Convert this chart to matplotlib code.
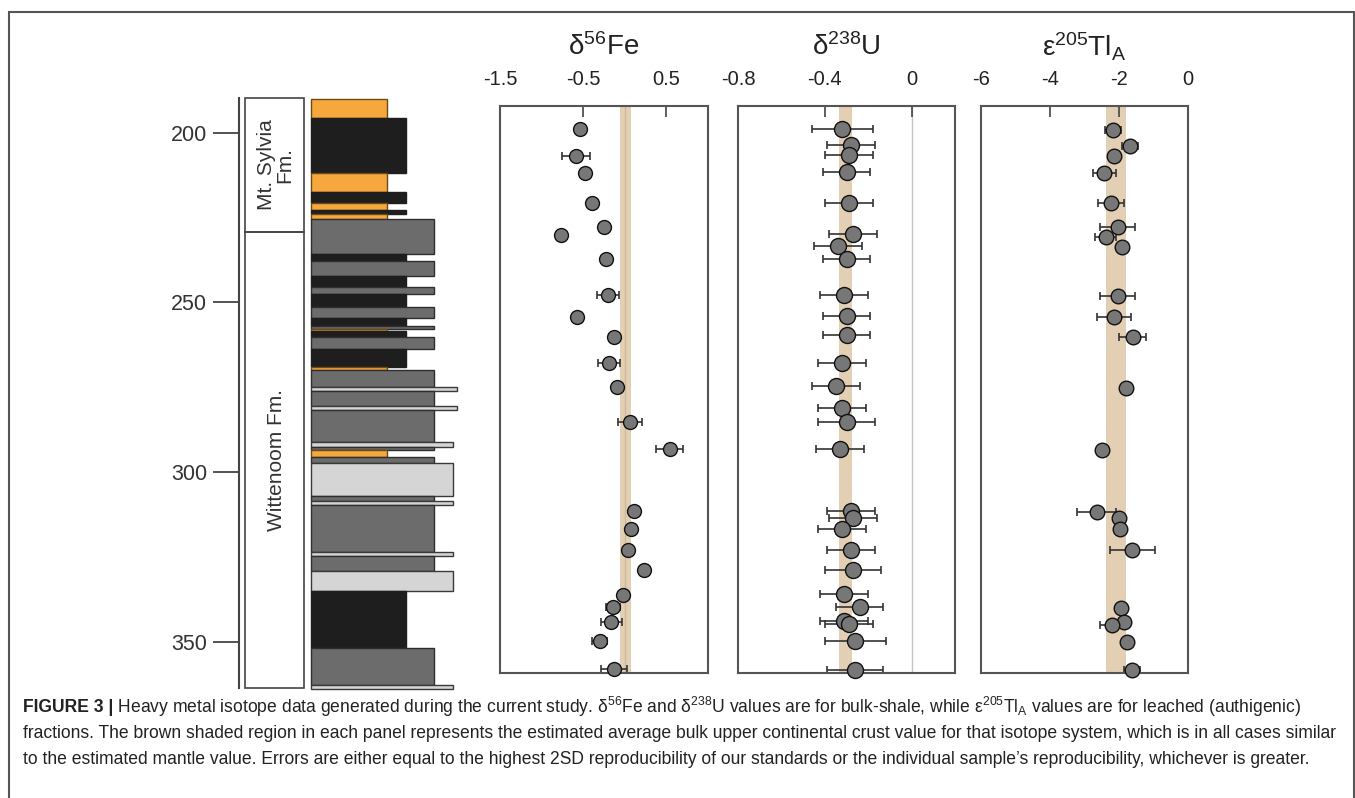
import matplotlib
matplotlib.use('Agg')
import matplotlib.pyplot as plt
from matplotlib import font_manager
from matplotlib.patches import Rectangle

# ---- data (depth in m, isotope values) ----
fe_depth = [198.9, 206.7, 211.7, 220.6, 227.8, 230.1, 237.1, 247.9, 254.2, 260.1, 267.8, 274.8,
            285.2, 293.3, 311.5, 316.8, 323.1, 328.8, 336.3, 339.9, 344.2, 349.9, 358.2]
fe_val = [-0.54, -0.59, -0.48, -0.40, -0.25, -0.77, -0.23, -0.20, -0.58, -0.135, -0.19, -0.09,
          0.06, 0.54, 0.115, 0.08, 0.04, 0.23, -0.02, -0.14, -0.16, -0.30, -0.13]
fe_err = [0.05, 0.17, 0.05, 0.05, 0.05, 0.05, 0.05, 0.13, 0.05, 0.05, 0.135, 0.05,
          0.145, 0.16, 0.05, 0.05, 0.05, 0.05, 0.05, 0.085, 0.13, 0.09, 0.16]

u_depth = [198.9, 203.5, 206.5, 211.4, 220.6, 229.9, 233.3, 237.1, 247.8, 254.0, 259.6, 267.8, 274.6, 281.1,
           285.2, 293.3, 311.4, 313.5, 316.7, 323.0, 328.9, 336.1, 339.9, 343.9, 344.8, 349.8, 358.4]
u_val = [-0.32, -0.28, -0.29, -0.30, -0.29, -0.27, -0.34, -0.30, -0.31, -0.30, -0.30, -0.32, -0.35, -0.32,
         -0.30, -0.33, -0.28, -0.27, -0.32, -0.28, -0.27, -0.31, -0.24, -0.31, -0.29, -0.26, -0.26]
u_err = [0.14, 0.11, 0.11, 0.11, 0.11, 0.11, 0.11, 0.11, 0.11, 0.11, 0.11, 0.11, 0.11, 0.11,
         0.13, 0.11, 0.11, 0.11, 0.11, 0.11, 0.13, 0.11, 0.11, 0.11, 0.11, 0.14, 0.13]

tl_depth = [199.1, 203.7, 206.8, 211.9, 220.7, 227.8, 230.6, 233.7, 248.1, 254.2, 260.1,
            275.1, 293.5, 311.7, 313.7, 316.9, 323.1, 340.0, 344.3, 345.1, 350.1, 358.4]
tl_val = [-2.18, -1.67, -2.14, -2.43, -2.23, -2.04, -2.39, -1.91, -2.04, -2.14, -1.60,
          -1.79, -2.48, -2.65, -2.00, -1.98, -1.62, -1.95, -1.86, -2.19, -1.76, -1.62]
tl_err = [0.23, 0.23, 0.15, 0.33, 0.38, 0.5, 0.3, 0.15, 0.5, 0.5, 0.39,
          0.15, 0.15, 0.57, 0.15, 0.15, 0.65, 0.15, 0.15, 0.35, 0.15, 0.23]

# crustal reference bands
fe_band = (-0.06, 0.07)
u_band = (-0.335, -0.275)
tl_band = (-2.38, -1.80)

# lithology column: top, bottom, kind
layers = [
    (190.1, 195.7, 'sand'), (195.7, 211.7, 'black'), (211.9, 217.3, 'sand'), (217.3, 220.7, 'black'),
    (220.7, 222.7, 'sand'), (222.7, 223.9, 'black'), (223.9, 225.4, 'sand'),
    (225.4, 235.7, 'shale'), (235.7, 237.8, 'black'), (237.8, 242.2, 'shale'), (242.2, 245.5, 'black'),
    (245.5, 247.4, 'shale'), (247.4, 251.2, 'black'), (251.2, 254.6, 'shale'), (254.6, 256.8, 'black'),
    (256.8, 257.9, 'shale'), (257.9, 258.3, 'sand'), (258.3, 260.1, 'black'), (260.1, 263.6, 'shale'),
    (263.6, 269.1, 'black'), (269.1, 269.9, 'sand'), (269.9, 274.8, 'shale'), (274.8, 276.0, 'light_w'),
    (276.0, 280.5, 'shale'), (280.5, 281.7, 'light_w'), (281.7, 291.1, 'shale'), (291.1, 292.5, 'light'),
    (292.5, 293.5, 'shale'), (293.5, 295.5, 'sand'), (295.5, 297.4, 'shale'), (297.4, 307.1, 'light'),
    (307.1, 308.5, 'shale'), (308.5, 309.8, 'light'), (309.8, 323.5, 'shale'), (323.5, 324.7, 'light'),
    (324.7, 329.2, 'shale'), (329.2, 335.0, 'light'), (335.0, 352.0, 'black'), (352.0, 362.8, 'shale'),
    (362.8, 364.0, 'light'),
]
formations = [('Mt. Sylvia\nFm.', 189.7, 229.2), ('Wittenoom Fm.', 229.2, 363.7)]
depth_ticks = [200, 250, 300, 350]

caption_bold = 'FIGURE 3 |'
caption_lines = [
    ' Heavy metal isotope data generated during the current study. \u03b4$^{56}$Fe and \u03b4$^{238}$U values are for bulk-shale, while \u03b5$^{205}$Tl$_{\\rm A}$ values are for leached (authigenic)',
    'fractions. The brown shaded region in each panel represents the estimated average bulk upper continental crust value for that isotope system, which is in all cases similar',
    'to the estimated mantle value. Errors are either equal to the highest 2SD reproducibility of our standards or the individual sample\u2019s reproducibility, whichever is greater.',
]

# ---- style ----
def has_font(name):
    try:
        font_manager.findfont(font_manager.FontProperties(family=name), fallback_to_default=False)
        return True
    except Exception:
        return False

main_font = 'Liberation Sans' if has_font('Liberation Sans') else 'DejaVu Sans'
cap_font = 'Liberation Sans Narrow' if has_font('Liberation Sans Narrow') else main_font
plt.rcParams['font.family'] = [main_font, 'DejaVu Sans']
plt.rcParams['mathtext.fontset'] = 'custom'
plt.rcParams['mathtext.rm'] = main_font
plt.rcParams['mathtext.it'] = main_font + ':italic'
plt.rcParams['mathtext.bf'] = main_font + ':bold'

kind_style = {
    'sand': dict(w=76, color='#f6a83f', ec='#6b4a14'),
    'black': dict(w=95, color='#1e1e1e', ec='#1e1e1e'),
    'shale': dict(w=123, color='#6c6c6c', ec='#2e2e2e'),
    'light': dict(w=142, color='#d5d5d5', ec='#3a3a3a'),
    'light_w': dict(w=146, color='#d5d5d5', ec='#3a3a3a'),
}
band_color = '#e3cfb3'
frame_color = '#555555'

W, H = 1355, 798
fig = plt.figure(figsize=(W / 100, H / 100), dpi=100)


def px_axes(x0, y0, x1, y1):
    return fig.add_axes([x0 / W, 1 - y1 / H, (x1 - x0) / W, (y1 - y0) / H])


# outer frame
fig.patches.append(Rectangle((9 / W, -0.05), (1354 - 9) / W, 1.05 - 12 / H, transform=fig.transFigure,
                             fill=False, ec=frame_color, lw=1.5))

# ---- stratigraphic column ----
axc = px_axes(239, 98, 470, 688)
axc.set_xlim(0, 231)
axc.set_ylim(363.7, 189.7)
for s in ['top', 'right', 'bottom']:
    axc.spines[s].set_visible(False)
axc.spines['left'].set_color('#444444')
axc.spines['left'].set_linewidth(1.5)
axc.set_xticks([])
axc.set_yticks(depth_ticks)
axc.tick_params(axis='y', direction='out', length=19, width=1.3, color='#444444',
                labelsize=15.5, pad=4, labelcolor='#333333')
axc.patch.set_alpha(0)

for name, top, bot in formations:
    axc.add_patch(Rectangle((6, top), 59, bot - top, fill=False, ec='#444444', lw=1.2, clip_on=False))
    axc.text(37, (top + bot) / 2, name, rotation=90, ha='center', va='center', fontsize=15,
             color='#333333', linespacing=0.95)

for top, bot, kind in layers:
    st = kind_style[kind]
    axc.barh((top + bot) / 2, st['w'], height=bot - top, left=72, color=st['color'],
             edgecolor=st['ec'], linewidth=1.0, clip_on=False)


# ---- isotope panels ----
def panel(rect, xlim, ticks, ticklabels, band, depth, val, err, title, ms, zero=None):
    ax = px_axes(*rect)
    ax.set_xlim(*xlim)
    ax.set_ylim(359.3, 192.0)
    ax.axvspan(band[0], band[1], color=band_color, lw=0, zorder=0)
    if zero is not None:
        ax.axvline(zero[0], color=zero[1], lw=1.0, zorder=1)
    ax.errorbar(val, depth, xerr=err, fmt='none', ecolor='#333333', elinewidth=1.2,
                capsize=3, capthick=1.2, zorder=2, clip_on=False)
    ax.plot(val, depth, 'o', ms=ms, mfc='#777777', mec='#111111', mew=1.0, zorder=3, clip_on=False)
    for s in ax.spines.values():
        s.set_color(frame_color)
        s.set_linewidth(1.5)
    ax.set_yticks([])
    ax.set_xticks(ticks)
    ax.set_xticklabels(ticklabels)
    ax.xaxis.tick_top()
    ax.tick_params(axis='x', direction='in', length=8, width=1.2, color='#444444',
                   labelsize=14.5, pad=12, labelcolor='#222222')
    cx = (rect[0] + rect[2]) / 2
    fig.text(cx / W, 1 - 47 / H, title, ha='center', va='center', fontsize=20, color='#222222')
    return ax


panel((500, 106, 708, 673), (-1.5, 1.0), [-1.5, -0.5, 0.5], ['-1.5', '-0.5', '0.5'], fe_band,
      fe_depth, fe_val, fe_err, '\u03b4$^{56}$Fe', 10, zero=(0.0, '#cdb99c'))
panel((738, 106, 955, 673), (-0.8, 0.2), [-0.8, -0.4, 0.0], ['-0.8', '-0.4', '0'], u_band,
      u_depth, u_val, u_err, '\u03b4$^{238}$U', 11.5, zero=(0.0, '#c4c4c4'))
panel((981, 106, 1188, 673), (-6, 0), [-6, -4, -2, 0], ['-6', '-4', '-2', '0'], tl_band,
      tl_depth, tl_val, tl_err, '\u03b5$^{205}$Tl$_{\\rm A}$', 10.5)

# ---- caption: one font size, chosen so the widest line fits the frame ----
renderer = fig.canvas.get_renderer()
x_left, target = 23, 1340 - 23
line_y = [707, 733, 759]


def line_width(fs):
    widths = []
    a = fig.text(0, 0.5, caption_bold, fontsize=fs, family=cap_font, fontweight='bold')
    b = fig.text(0, 0.5, caption_lines[0], fontsize=fs, family=cap_font)
    widths.append(a.get_window_extent(renderer).width + b.get_window_extent(renderer).width)
    a.remove()
    b.remove()
    for txt in caption_lines[1:]:
        t = fig.text(0, 0.5, txt, fontsize=fs, family=cap_font)
        widths.append(t.get_window_extent(renderer).width)
        t.remove()
    return max(widths)


fs = 13 * target / line_width(13)

tb = fig.text(x_left / W, 1 - line_y[0] / H, caption_bold, fontsize=fs, family=cap_font,
              fontweight='bold', va='center', color='#222222')
wb = tb.get_window_extent(renderer).width
fig.text((x_left + wb) / W, 1 - line_y[0] / H, caption_lines[0], fontsize=fs, family=cap_font,
         va='center', color='#222222')
for txt, yy in zip(caption_lines[1:], line_y[1:]):
    fig.text(x_left / W, 1 - yy / H, txt, fontsize=fs, family=cap_font, va='center', color='#222222')

fig.savefig('out.png', dpi=100)
